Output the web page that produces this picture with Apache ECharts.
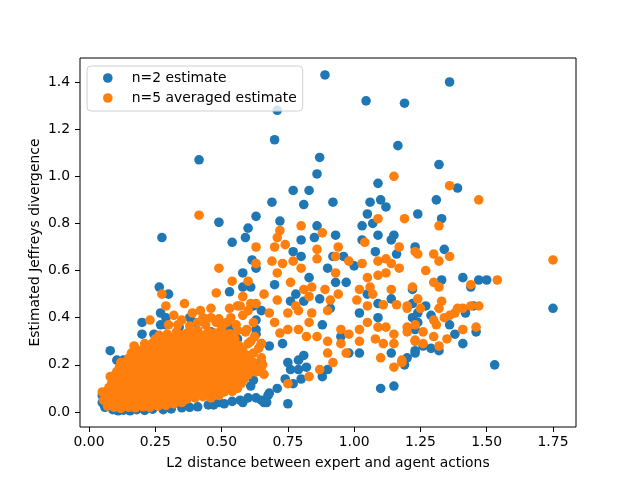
<!DOCTYPE html>
<html>
<head>
<meta charset="utf-8">
<title>Jeffreys divergence vs L2 distance</title>
<script src="https://cdn.jsdelivr.net/npm/echarts/dist/echarts.min.js"></script>
<style>
  html, body { margin: 0; padding: 0; background: #fff; }
  #chart { width: 640px; height: 480px; }
</style>
</head>
<body>
<div id="chart"></div>
<script>
// [L2 distance, estimated Jeffreys divergence]
const n2Upper = [
  [0.89,1.43],[1.36,1.40],[1.045,1.32],[1.19,1.31],[0.71,1.28],[0.70,1.155],[1.165,1.13],
  [0.415,1.07],[0.87,1.08],[1.32,1.05],[0.86,1.01],[1.09,0.97],[1.39,0.95],[0.77,0.94],
  [0.83,0.94],[1.31,0.90],[1.10,0.90],[0.69,0.89],[0.81,0.88],[0.92,0.89],[1.06,0.89],
  [1.12,0.87],[1.05,0.84],[1.24,0.84],[0.63,0.83],[1.33,0.82],[0.72,0.81],[0.49,0.805],
  [0.60,0.78],[1.03,0.79],[1.07,0.80],[0.86,0.79],[0.275,0.74],[0.59,0.74],[0.54,0.72],
  [0.93,0.75],[0.85,0.74],[0.80,0.73],[1.03,0.73],[1.09,0.75],[1.15,0.75],[1.14,0.73],
  [1.23,0.70],[0.77,0.68],[0.80,0.66],[0.92,0.66],[0.96,0.66],[1.00,0.62],[1.08,0.68],
  [1.16,0.67],[1.34,0.69],[0.90,0.61],[0.615,0.645],[0.63,0.61],[0.58,0.59],[0.83,0.57],
  [0.93,0.55],[0.97,0.55],[0.70,0.54],[0.61,0.53],[0.78,0.50],[1.05,0.50],[1.22,0.52],
  [1.41,0.57],[1.47,0.56],[1.44,0.53],[1.33,0.56],[1.50,0.56],[0.265,0.53],[0.30,0.50],
  [0.53,0.51],[0.58,0.53]
];
const n2Middle = [
  [1.75,0.44],[1.53,0.20],[1.27,0.45],[1.24,0.42],[1.22,0.40],[1.29,0.41],[1.36,0.37],
  [1.42,0.42],[1.46,0.34],[1.41,0.29],[1.32,0.26],[1.23,0.25],[1.26,0.28],[1.19,0.20],
  [1.29,0.27],[1.38,0.33],[1.45,0.45],[0.66,0.04],[0.75,0.035],[0.68,0.08],[0.71,0.10],
  [1.10,0.10],[1.15,0.11],[0.77,0.12],[0.80,0.14],[0.74,0.14],[0.76,0.18],[0.79,0.18],
  [0.82,0.19],[0.88,0.15],[0.90,0.18],[0.75,0.21],[0.79,0.22],[0.81,0.24],[0.88,0.37],
  [0.65,0.21],[1.02,0.42],[1.09,0.40],[0.98,0.25],[1.02,0.25],[1.14,0.25],[1.23,0.26],
  [1.20,0.23],[0.95,0.32],[0.63,0.33],[0.68,0.28],[0.73,0.29],[0.65,0.43],[0.63,0.39],
  [0.76,0.47],[0.81,0.47],[0.87,0.48],[0.91,0.44],[1.09,0.46],[1.14,0.48],[1.22,0.46],
  [1.24,0.38],[1.23,0.35]
];
const n2Dense = [
  [0.08,0.26],[0.105,0.22],[0.13,0.22],[0.20,0.38],[0.20,0.33],[0.245,0.33],[0.27,0.37],
  [0.29,0.37],[0.27,0.42],[0.29,0.40],[0.38,0.40],[0.40,0.38],[0.62,0.45],[0.53,0.36],
  [0.39,0.38],[0.63,0.35],[0.65,0.29],[0.645,0.21],[0.61,0.11],[0.675,0.07],[0.62,0.135],
  [0.60,0.18],[0.54,0.12],[0.49,0.18],[0.05,0.04],[0.05,0.07],[0.06,0.02],[0.09,0.01],
  [0.11,0.005],[0.13,0.008],[0.155,0.005],[0.18,0.01],[0.21,0.007],[0.24,0.012],[0.28,0.01],
  [0.31,0.013],[0.35,0.018],[0.38,0.02],[0.41,0.022],[0.45,0.03],[0.47,0.03],[0.49,0.04],
  [0.51,0.035],[0.54,0.045],[0.57,0.05],[0.58,0.04],[0.60,0.06],[0.63,0.06],[0.65,0.05],
  [0.67,0.04],[0.56,0.31],[0.46,0.34],[0.34,0.36]
];

const n5Upper = [
  [1.15,1.00],[1.36,0.96],[1.47,0.90],[0.415,0.835],[1.19,0.82],[1.09,0.82],[1.32,0.79],
  [0.80,0.79],[0.88,0.76],[0.72,0.77],[0.71,0.74],[0.63,0.70],[0.70,0.70],[0.74,0.71],
  [0.94,0.70],[0.86,0.69],[1.04,0.72],[1.17,0.70],[1.23,0.68],[0.63,0.63],[0.69,0.64],
  [0.73,0.63],[0.77,0.64],[0.86,0.65],[0.93,0.66],[0.98,0.64],[1.03,0.63],[1.09,0.64],
  [1.12,0.65],[1.14,0.63],[1.17,0.61],[0.80,0.61],[0.93,0.59],[0.71,0.59],[0.76,0.55],
  [0.84,0.53],[1.05,0.57],[1.09,0.58],[1.12,0.59],[1.06,0.53],[1.14,0.52],[1.22,0.53],
  [0.66,0.50],[0.81,0.52],[0.89,0.52],[0.94,0.50],[1.02,0.52],[1.07,0.50],
  [1.24,0.67],[1.30,0.67],[1.32,0.64],[1.36,0.66],[1.27,0.60],[1.75,0.645],[1.54,0.56],
  [1.44,0.54],[1.32,0.53],[1.30,0.55]
];
const n5Middle = [
  [1.24,0.48],[1.33,0.47],[1.20,0.44],[1.25,0.44],[1.32,0.44],[1.36,0.41],[1.39,0.44],
  [1.41,0.44],[1.44,0.45],[1.47,0.45],[1.38,0.42],[1.34,0.40],[1.30,0.39],[1.31,0.37],
  [1.46,0.36],[1.41,0.35],[1.20,0.34],[1.23,0.37],[1.26,0.34],[1.23,0.30],[1.26,0.29],
  [1.30,0.32],[1.35,0.31],[1.32,0.28],[1.18,0.21],
  [0.71,0.475],[0.78,0.45],[0.83,0.49],[0.91,0.475],[1.01,0.475],[1.05,0.45],[1.11,0.455],
  [1.16,0.455],[1.20,0.45],[0.68,0.42],[0.75,0.42],[0.79,0.43],[0.84,0.42],[0.90,0.43],
  [0.70,0.38],[0.72,0.335],[0.75,0.35],[0.79,0.35],[0.83,0.38],[0.86,0.32],[0.82,0.32],
  [0.90,0.30],[0.95,0.35],[0.98,0.33],[0.95,0.29],[1.02,0.35],[1.05,0.38],[1.09,0.36],
  [1.12,0.36],[1.15,0.33],[1.11,0.29],[1.15,0.29],[1.08,0.31],[1.20,0.36],[1.23,0.305],
  [1.02,0.30],[0.97,0.25],[0.92,0.21],[1.10,0.23],[1.18,0.22],[1.15,0.19],[0.90,0.25],
  [0.87,0.18],[0.83,0.15],[0.75,0.12],[0.65,0.23],[0.65,0.17],[0.66,0.16],[0.61,0.17],
  [0.61,0.30],[0.65,0.29]
];
const n5Cluster = [
  [0.49,0.61],[0.54,0.555],[0.60,0.555],[0.48,0.505],[0.58,0.49],[0.36,0.46],[0.275,0.50],
  [0.29,0.45],[0.32,0.41],[0.39,0.42],[0.43,0.40],[0.49,0.395],[0.53,0.44],[0.57,0.45],
  [0.61,0.46],[0.23,0.39],[0.30,0.37],[0.30,0.32],[0.37,0.335],[0.56,0.45],[0.63,0.46],
  [0.48,0.38],[0.52,0.38],[0.62,0.38],[0.17,0.28],[0.21,0.27],[0.12,0.21],[0.08,0.15],
  [0.05,0.085],[0.11,0.17],
  [0.335,0.37],[0.35,0.39],[0.38,0.365],[0.41,0.38],[0.44,0.37],[0.46,0.40],[0.505,0.37],
  [0.535,0.40],[0.555,0.37],[0.58,0.41],[0.60,0.43],[0.42,0.43],[0.46,0.44],[0.595,0.35],
  [0.62,0.25],[0.64,0.27],[0.63,0.19],[0.655,0.20],[0.625,0.32],[0.60,0.29]
];
const n5Dense = [
  [0.07,0.025],[0.095,0.02],[0.12,0.015],[0.15,0.02],[0.175,0.018],[0.205,0.022],[0.23,0.02],
  [0.26,0.025],[0.29,0.028],[0.32,0.035],[0.35,0.04],
  [0.055,0.05],[0.085,0.048],[0.11,0.052],[0.14,0.045],[0.165,0.055],[0.195,0.05],[0.225,0.048],
  [0.25,0.055],[0.28,0.05],[0.31,0.058],[0.34,0.06],[0.37,0.055],[0.40,0.06],[0.43,0.065],
  [0.46,0.06],[0.49,0.07],
  [0.065,0.085],[0.09,0.08],[0.12,0.088],[0.15,0.082],[0.18,0.09],[0.205,0.085],[0.235,0.08],
  [0.265,0.09],[0.295,0.085],[0.32,0.092],[0.35,0.088],[0.38,0.095],[0.41,0.09],[0.44,0.10],
  [0.47,0.095],[0.50,0.10],[0.53,0.105],[0.56,0.10],
  [0.085,0.12],[0.11,0.115],[0.14,0.125],[0.165,0.118],[0.195,0.122],[0.225,0.13],[0.255,0.12],
  [0.28,0.128],[0.31,0.12],[0.34,0.13],[0.37,0.125],[0.40,0.132],[0.43,0.128],[0.46,0.135],
  [0.49,0.13],[0.52,0.14],[0.55,0.135],[0.585,0.14],
  [0.095,0.155],[0.125,0.15],[0.155,0.16],[0.18,0.152],[0.21,0.158],[0.24,0.165],[0.27,0.155],
  [0.30,0.162],[0.33,0.158],[0.36,0.168],[0.39,0.16],[0.42,0.17],[0.45,0.165],[0.48,0.172],
  [0.51,0.168],[0.54,0.175],[0.57,0.17],[0.60,0.178],[0.63,0.17],
  [0.115,0.19],[0.14,0.195],[0.17,0.188],[0.20,0.198],[0.23,0.192],[0.26,0.20],[0.29,0.195],
  [0.32,0.202],[0.35,0.196],[0.38,0.205],[0.41,0.20],[0.44,0.208],[0.47,0.20],[0.50,0.21],
  [0.53,0.205],[0.56,0.212],[0.59,0.20],[0.62,0.21],
  [0.15,0.228],[0.18,0.235],[0.21,0.23],[0.24,0.238],[0.27,0.232],[0.30,0.24],[0.33,0.235],
  [0.36,0.242],[0.39,0.238],[0.42,0.245],[0.45,0.24],[0.48,0.248],[0.51,0.242],[0.54,0.25],
  [0.57,0.245],[0.60,0.24],
  [0.175,0.27],[0.205,0.265],[0.235,0.275],[0.265,0.27],[0.295,0.278],[0.325,0.272],[0.355,0.28],
  [0.385,0.275],[0.415,0.282],[0.445,0.278],[0.475,0.285],[0.505,0.28],[0.535,0.288],[0.565,0.282],
  [0.25,0.31],[0.28,0.305],[0.31,0.315],[0.34,0.31],[0.37,0.318],[0.40,0.312],[0.43,0.32],
  [0.46,0.315],[0.49,0.322],[0.52,0.318],[0.55,0.31],
  [0.33,0.34],[0.41,0.345],[0.45,0.34],[0.50,0.35],[0.56,0.345],[0.59,0.34]
];
// second layer of the packed cluster, sitting between the points above
const n5Packed = [
  [0.08,0.036],[0.11,0.032],[0.135,0.038],[0.165,0.034],[0.19,0.037],[0.22,0.033],[0.245,0.038],
  [0.275,0.036],[0.30,0.04],[0.33,0.045],
  [0.07,0.068],[0.10,0.066],[0.125,0.07],[0.155,0.067],[0.18,0.071],[0.21,0.066],[0.24,0.07],
  [0.265,0.068],[0.295,0.072],[0.325,0.074],[0.355,0.072],[0.385,0.076],[0.415,0.075],[0.445,0.08],
  [0.475,0.078],[0.51,0.085],[0.54,0.088],
  [0.075,0.103],[0.105,0.1],[0.135,0.105],[0.16,0.102],[0.19,0.106],[0.22,0.104],[0.25,0.105],
  [0.28,0.108],[0.305,0.104],[0.335,0.11],[0.365,0.107],[0.395,0.112],[0.425,0.11],[0.455,0.116],
  [0.485,0.113],[0.515,0.12],[0.545,0.118],[0.575,0.122],
  [0.10,0.137],[0.125,0.134],[0.155,0.14],[0.18,0.136],[0.21,0.14],[0.24,0.143],[0.265,0.138],
  [0.295,0.142],[0.325,0.14],[0.355,0.146],[0.385,0.143],[0.415,0.15],[0.445,0.147],[0.475,0.152],
  [0.505,0.15],[0.535,0.156],[0.565,0.153],[0.60,0.158],
  [0.105,0.172],[0.135,0.175],[0.165,0.17],[0.195,0.176],[0.225,0.174],[0.255,0.18],[0.285,0.176],
  [0.315,0.182],[0.345,0.178],[0.375,0.186],[0.405,0.182],[0.435,0.188],[0.465,0.185],[0.495,0.19],
  [0.525,0.188],[0.555,0.193],[0.585,0.19],[0.615,0.192],
  [0.13,0.21],[0.155,0.213],[0.185,0.21],[0.215,0.214],[0.245,0.212],[0.275,0.218],[0.305,0.214],
  [0.335,0.22],[0.365,0.217],[0.395,0.222],[0.425,0.22],[0.455,0.226],[0.485,0.222],[0.515,0.228],
  [0.545,0.225],[0.575,0.228],[0.605,0.222],
  [0.16,0.25],[0.19,0.252],[0.22,0.25],[0.25,0.255],[0.28,0.252],[0.31,0.258],[0.34,0.255],
  [0.37,0.262],[0.40,0.258],[0.43,0.264],[0.46,0.26],[0.49,0.266],[0.52,0.262],[0.55,0.268],
  [0.58,0.262],
  [0.21,0.29],[0.24,0.292],[0.265,0.29],[0.295,0.295],[0.325,0.292],[0.355,0.298],[0.385,0.295],
  [0.415,0.3],[0.445,0.297],[0.475,0.302],[0.505,0.298],[0.535,0.302],
  [0.265,0.325],[0.295,0.33],[0.355,0.328],[0.385,0.333],[0.44,0.328],[0.475,0.335],[0.53,0.332]
];

const n2Points = n2Upper.concat(n2Middle, n2Dense);
const n5Points = n5Upper.concat(n5Middle, n5Cluster, n5Dense, n5Packed);

const xTicks = [0, 0.25, 0.5, 0.75, 1.0, 1.25, 1.5, 1.75];
const yTicks = [0, 0.2, 0.4, 0.6, 0.8, 1.0, 1.2, 1.4];

const FONT = 'DejaVu Sans';
const MARK = 9.6;  // matplotlib s=36 plus its 1pt edge
const chart = echarts.init(document.getElementById('chart'));

chart.setOption({
  animation: false,
  textStyle: { fontFamily: FONT },
  legend: {
    data: ['n=2 estimate', 'n=5 averaged estimate'],
    orient: 'vertical',
    left: 87,
    top: 66,
    padding: [5, 6, 6, 16],
    itemWidth: 38,
    itemHeight: MARK,
    itemGap: 6,
    icon: 'circle',
    backgroundColor: 'rgba(255,255,255,0.8)',
    borderColor: '#d0d0d0',
    borderWidth: 1,
    borderRadius: 4,
    textStyle: { color: '#000', fontSize: 13.9, fontFamily: FONT }
  },
  grid: [
    { left: 89, right: 87, top: 82, bottom: 68 },   // data area (ticks 0..1.75, 0..1.4)
    { left: 80, right: 64, top: 58, bottom: 53, show: true, borderColor: '#000', borderWidth: 1 }  // frame
  ],
  xAxis: [
    {
      type: 'value', gridIndex: 0, min: xTicks[0], max: xTicks[xTicks.length - 1], interval: 0.25,
      offset: 15,
      axisLine: { show: false, onZero: false },
      axisTick: { show: true, length: 5, lineStyle: { color: '#000' } },
      axisLabel: { color: '#000', fontSize: 13.9, margin: 8, formatter: v => v.toFixed(2) },
      splitLine: { show: false }
    },
    {
      type: 'value', gridIndex: 1, min: 0, max: 1,
      axisLine: { show: false }, axisTick: { show: false }, axisLabel: { show: false },
      splitLine: { show: false },
      name: 'L2 distance between expert and agent actions',
      nameLocation: 'middle', nameGap: 29,
      nameTextStyle: { color: '#000', fontSize: 13.9, fontFamily: FONT }
    }
  ],
  yAxis: [
    {
      type: 'value', gridIndex: 0, min: yTicks[0], max: yTicks[yTicks.length - 1], interval: 0.2,
      offset: 9,
      axisLine: { show: false, onZero: false },
      axisTick: { show: true, length: 5, lineStyle: { color: '#000' } },
      axisLabel: { color: '#000', fontSize: 13.9, margin: 10, formatter: v => v.toFixed(1) },
      splitLine: { show: false }
    },
    {
      type: 'value', gridIndex: 1, min: 0, max: 1,
      axisLine: { show: false }, axisTick: { show: false }, axisLabel: { show: false },
      splitLine: { show: false },
      name: 'Estimated Jeffreys divergence',
      nameLocation: 'middle', nameGap: 38,
      nameTextStyle: { color: '#000', fontSize: 13.9, fontFamily: FONT }
    }
  ],
  series: [
    {
      name: 'n=2 estimate',
      type: 'scatter',
      xAxisIndex: 0, yAxisIndex: 0,
      data: n2Points,
      symbolSize: MARK,
      clip: false,
      itemStyle: { color: '#1f77b4', opacity: 1 },
      emphasis: { disabled: true }
    },
    {
      name: 'n=5 averaged estimate',
      type: 'scatter',
      xAxisIndex: 0, yAxisIndex: 0,
      data: n5Points,
      symbolSize: MARK,
      clip: false,
      itemStyle: { color: '#ff7f0e', opacity: 1 },
      emphasis: { disabled: true }
    }
  ]
});
</script>
</body>
</html>
